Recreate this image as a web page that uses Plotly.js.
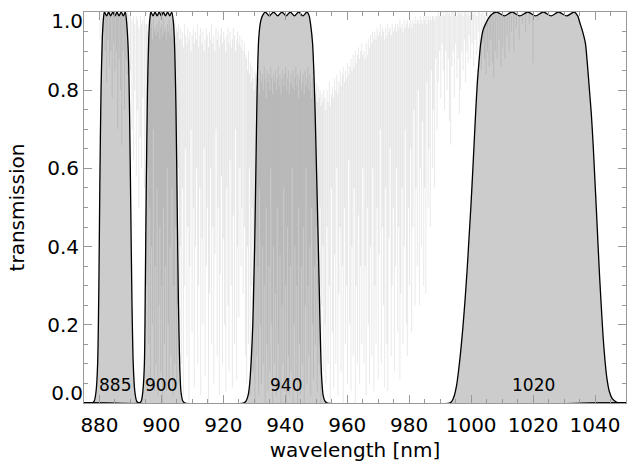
<!DOCTYPE html>
<html><head><meta charset="utf-8">
<script src="https://cdn.plot.ly/plotly-3.0.1.min.js"></script>
<style>html,body{margin:0;padding:0;background:#fff;}#chart{width:627px;height:467px;}</style>
</head><body><div id="chart"></div>
<script>
// ---- filter transmission curves ----
const f885Wl = [875, 877.6, 878.3, 878.9, 879.4, 879.8, 880.1, 880.5, 880.9, 881.3, 881.6, 882.3, 882.95, 883.6, 884.3, 885.0, 885.65, 886.3, 887.0, 887.7, 888.35, 888.8, 889.3, 889.7, 890.1, 890.5, 890.9, 891.4, 892.0, 892.8, 1050];
const f885T  = [0, 0, 0.005, 0.03, 0.1, 0.3, 0.55, 0.8, 0.93, 0.985, 1.0, 0.99, 1.0, 0.99, 1.0, 0.99, 1.0, 0.99, 1.0, 0.99, 1.0, 0.97, 0.9, 0.75, 0.5, 0.25, 0.1, 0.03, 0.005, 0, 0];
const f900Wl = [875, 892.8, 893.5, 894.0, 894.5, 894.8, 895.1, 895.5, 895.9, 896.3, 896.6, 897.3, 897.95, 898.6, 899.3, 899.95, 900.65, 901.3, 902.0, 902.7, 903.35, 903.9, 904.3, 904.7, 905.1, 905.5, 905.9, 906.3, 906.9, 907.6, 1050];
const f900T  = [0, 0, 0.005, 0.03, 0.1, 0.3, 0.55, 0.8, 0.93, 0.985, 1.0, 0.99, 1.0, 0.99, 1.0, 0.99, 1.0, 0.99, 1.0, 0.99, 1.0, 0.97, 0.9, 0.75, 0.5, 0.25, 0.1, 0.03, 0.005, 0, 0];
const f940Wl = [875, 926.5, 927.3, 928.0, 928.5, 929.0, 929.5, 929.8, 930.1, 930.5, 930.9, 931.4, 932.0, 932.6, 933.5, 934.85, 936.2, 937.55, 938.9, 940.25, 941.6, 942.95, 944.3, 945.65, 947.0, 947.7, 948.3, 948.8, 949.2, 949.6, 950.0, 950.4, 950.8, 951.1, 951.4, 951.7, 952.2, 952.8, 953.6, 1050];
const f940T  = [0, 0, 0.005, 0.02, 0.05, 0.11, 0.2, 0.3, 0.4, 0.6, 0.8, 0.93, 0.975, 0.99, 1.0, 0.99, 1.0, 0.99, 1.0, 0.99, 1.0, 0.99, 1.0, 0.99, 1.0, 0.99, 0.96, 0.92, 0.85, 0.75, 0.62, 0.49, 0.35, 0.24, 0.14, 0.07, 0.02, 0.005, 0, 0];
const f1020Wl = [875, 993.0, 993.8, 994.6, 995.3, 995.9, 996.6, 997.3, 998.0, 998.7, 999.3, 999.9, 1000.5, 1001.0, 1001.5, 1002.0, 1002.5, 1003.1, 1003.9, 1004.7, 1005.7, 1006.8, 1008.2, 1010.7, 1013.2, 1015.7, 1018.3, 1020.8, 1023.3, 1025.8, 1028.2, 1030.8, 1033.3, 1034.4, 1035.2, 1036.0, 1036.9, 1037.5, 1038.1, 1038.8, 1039.4, 1039.9, 1040.4, 1041.0, 1041.5, 1042.0, 1042.6, 1043.2, 1043.8, 1044.6, 1045.5, 1046.6, 1048.0, 1050];
const f1020T  = [0, 0, 0.005, 0.02, 0.045, 0.08, 0.13, 0.19, 0.26, 0.34, 0.42, 0.5, 0.59, 0.67, 0.75, 0.82, 0.87, 0.92, 0.955, 0.97, 0.985, 0.995, 1.0, 0.99, 1.0, 0.99, 1.0, 0.99, 1.0, 0.99, 1.0, 0.99, 1.0, 0.99, 0.97, 0.95, 0.92, 0.87, 0.81, 0.74, 0.66, 0.58, 0.5, 0.4, 0.32, 0.25, 0.17, 0.11, 0.065, 0.03, 0.012, 0.004, 0, 0];

// ---- filter labels ----
const labelText = ['885', '900', '940', '1020'];
const labelWl   = [885, 900, 940.3, 1020.2];
const labelT    = [0.045, 0.045, 0.045, 0.045];

// ---- atmospheric absorption lines: wavelength, local maximum, minimum transmission ----
const specWl = [
 880.2, 880.8, 881.3, 881.8, 882.3, 882.7, 883.2, 883.6, 884.1, 884.6, 885.0, 885.5, 885.9, 886.3, 886.8, 887.2, 887.6, 888.1, 888.5, 889.0, 889.5,
 890.0, 890.5, 891.0, 891.4, 891.9, 892.3, 892.7, 893.2, 893.6, 894.0, 894.5, 895.0,
 895.3, 895.6, 895.9, 896.2, 896.5, 896.8, 897.1, 897.4, 897.7, 898.0, 898.3, 898.6, 898.9, 899.2, 899.5, 899.8, 900.1, 900.4, 900.7, 901.0,
 901.3, 901.6, 901.9, 902.2, 902.5, 902.8, 903.1, 903.4, 903.7, 904.0, 904.3, 904.6, 904.9, 905.2, 905.5, 905.8,
 906.1, 906.4, 906.8, 907.1, 907.5, 907.8, 908.2, 908.5, 908.9, 909.2, 909.6, 909.9, 910.3, 910.6, 911.0, 911.3, 911.7, 912.0, 912.4, 912.7,
 913.1, 913.4, 913.8, 914.1, 914.5, 914.8, 915.2, 915.5, 915.9, 916.2, 916.6, 916.9, 917.3, 917.6, 918.0, 918.3, 918.7, 919.0, 919.4, 919.7,
 920.1, 920.4, 920.8, 921.1, 921.5, 921.8, 922.2, 922.5, 922.9, 923.2, 923.6, 923.9, 924.3, 924.6, 925.0, 925.3, 925.7, 926.0, 926.4, 926.8, 927.2,
 927.5, 927.8, 928.1, 928.4, 928.7, 929.0, 929.3, 929.6, 929.9, 930.2, 930.5, 930.8, 931.1, 931.4, 931.7, 932.0, 932.3, 932.6, 932.9, 933.2,
 933.5, 933.8, 934.1, 934.4, 934.7, 935.0, 935.3, 935.6, 935.9, 936.2, 936.5, 936.8, 937.1, 937.4, 937.7, 938.0, 938.3, 938.6, 938.9, 939.2,
 939.5, 939.8, 940.1, 940.4, 940.7, 941.0, 941.3, 941.6, 941.9, 942.2, 942.5, 942.8, 943.1, 943.4, 943.7, 944.0, 944.3, 944.6, 944.9, 945.2,
 945.5, 945.8, 946.1, 946.4, 946.7, 947.0, 947.3, 947.6, 947.9, 948.2, 948.5, 948.8, 949.1, 949.4, 949.7, 950.0, 950.3, 950.6, 950.9, 951.2,
 951.5, 951.8, 952.1, 952.4,
 952.8, 953.1, 953.5, 953.8, 954.2, 954.5, 954.9, 955.2, 955.6, 955.9, 956.3, 956.6, 957.0, 957.3, 957.7, 958.0, 958.4, 958.7, 959.1, 959.4,
 959.8, 960.1, 960.5, 960.8, 961.2, 961.5, 961.9, 962.2, 962.6, 962.9, 963.3, 963.6, 964.0, 964.3, 964.7, 965.0,
 965.4, 965.8, 966.1, 966.5, 966.8, 967.2, 967.5, 967.9, 968.2, 968.6, 968.9, 969.3, 969.6, 970.0, 970.3, 970.7, 971.0, 971.4, 971.7, 972.1,
 972.4, 972.8, 973.1, 973.5, 973.8, 974.2, 974.5, 974.9, 975.2, 975.6, 975.9, 976.3, 976.6, 977.0, 977.3, 977.7, 978.0, 978.4, 978.7, 979.1,
 979.4, 979.8, 980.1, 980.5, 980.8, 981.2, 981.5, 981.9, 982.2, 982.6, 982.9, 983.3, 983.6, 984.0, 984.3, 984.7, 985.0, 985.4, 985.7, 986.1,
 986.4, 986.8, 987.1, 987.5, 987.8, 988.2, 988.6, 989.0, 989.4, 989.8, 990.2, 990.6,
 991.0, 991.4, 991.8, 992.2, 992.6, 993.0, 993.4, 993.8, 994.2, 994.6, 995.0, 995.4, 995.8, 996.2, 996.6, 997.0, 997.4, 997.8, 998.2, 998.6,
 999.0, 999.4, 999.8, 1000.3, 1000.8, 1001.3, 1001.8, 1002.3, 1002.8, 1003.3, 1003.8, 1004.3, 1004.8, 1005.3, 1005.8, 1006.3, 1006.8, 1007.3, 1007.8, 1008.4,
 1009.0, 1009.6, 1010.2, 1010.9, 1011.6, 1012.3, 1013.0, 1013.8, 1014.6, 1015.5, 1016.5, 1017.6, 1018.8, 1020.0, 1021.5
];
const specTop = [
 1, 0.995, 1, 1, 0.99, 1, 0.995, 1, 0.99, 1, 1, 0.995, 1, 0.99, 1, 1, 0.995, 1, 0.99, 1, 0.995,
 0.99, 0.98, 0.99, 0.97, 0.99, 0.98, 0.96, 0.99, 0.97, 0.98, 0.99, 0.97,
 0.97, 0.95, 0.98, 0.94, 0.96, 0.97, 0.93, 0.98, 0.95, 0.96, 0.94, 0.97, 0.95, 0.98, 0.93, 0.96, 0.97, 0.94, 0.98, 0.95,
 0.96, 0.93, 0.97, 0.95, 0.98, 0.94, 0.96, 0.97, 0.93, 0.95, 0.98, 0.94, 0.96, 0.95, 0.97, 0.93,
 0.96, 0.93, 0.95, 0.91, 0.97, 0.94, 0.92, 0.96, 0.93, 0.95, 0.9, 0.94, 0.96, 0.92, 0.95, 0.93, 0.97, 0.91, 0.94, 0.96,
 0.92, 0.95, 0.9, 0.93, 0.96, 0.94, 0.91, 0.95, 0.93, 0.97, 0.92, 0.94, 0.9, 0.96, 0.93, 0.95, 0.91, 0.94, 0.96, 0.92,
 0.95, 0.93, 0.9, 0.94, 0.96, 0.92, 0.95, 0.91, 0.93, 0.96, 0.94, 0.9, 0.93, 0.95, 0.92, 0.94, 0.91, 0.93, 0.9, 0.92, 0.89,
 0.88, 0.85, 0.9, 0.84, 0.87, 0.82, 0.86, 0.83, 0.8, 0.85, 0.84, 0.81, 0.86, 0.83, 0.79, 0.85, 0.82, 0.84, 0.8, 0.86,
 0.83, 0.78, 0.85, 0.82, 0.84, 0.8, 0.86, 0.83, 0.79, 0.84, 0.82, 0.85, 0.8, 0.83, 0.86, 0.81, 0.84, 0.79, 0.83, 0.85,
 0.81, 0.84, 0.86, 0.8, 0.83, 0.85, 0.79, 0.82, 0.84, 0.81, 0.85, 0.8, 0.83, 0.86, 0.81, 0.84, 0.78, 0.83, 0.85, 0.8,
 0.82, 0.84, 0.79, 0.85, 0.81, 0.83, 0.86, 0.8, 0.84, 0.82, 0.78, 0.83, 0.8, 0.85, 0.79, 0.82, 0.77, 0.81, 0.78, 0.8,
 0.76, 0.79, 0.77, 0.8,
 0.78, 0.75, 0.8, 0.77, 0.82, 0.76, 0.79, 0.81, 0.78, 0.83, 0.8, 0.84, 0.79, 0.82, 0.85, 0.81, 0.84, 0.86, 0.82, 0.85,
 0.83, 0.87, 0.84, 0.86, 0.88, 0.85, 0.89, 0.86, 0.9, 0.87, 0.89, 0.91, 0.88, 0.9, 0.92, 0.89,
 0.9, 0.88, 0.92, 0.89, 0.93, 0.91, 0.94, 0.92, 0.95, 0.93, 0.95, 0.93, 0.96, 0.94, 0.95, 0.97, 0.94, 0.96, 0.95, 0.93,
 0.96, 0.94, 0.97, 0.95, 0.96, 0.94, 0.97, 0.95, 0.96, 0.97, 0.95, 0.97, 0.96, 0.98, 0.96, 0.97, 0.95, 0.98, 0.96, 0.97,
 0.98, 0.96, 0.97, 0.98, 0.96, 0.98, 0.97, 0.99, 0.97, 0.98, 0.98, 0.97, 0.99, 0.98, 0.97, 0.99, 0.98, 0.99, 0.97, 0.99,
 0.98, 0.99, 0.98, 0.99, 0.99, 0.98, 0.99, 0.99, 1, 0.99, 1, 0.99,
 1, 0.99, 1, 1, 0.995, 1, 0.99, 1, 1, 0.995, 1, 0.99, 1, 1, 0.995, 1, 0.99, 1, 1, 0.995,
 1, 0.99, 1, 1, 0.995, 1, 0.99, 1, 1, 0.995, 1, 0.99, 1, 1, 0.995, 1, 0.99, 1, 1, 0.995,
 1, 0.99, 1, 1, 0.995, 1, 0.99, 1, 1, 0.995, 1, 1, 1, 1, 1
];
const specMin = [
 0.93, 0.88, 0.95, 0.9, 0.82, 0.93, 0.86, 0.9, 0.78, 0.92, 0.85, 0.9, 0.7, 0.88, 0.8, 0.66, 0.9, 0.75, 0.88, 0.84, 0.9,
 0.85, 0.7, 0.62, 0.8, 0.58, 0.75, 0.5, 0.68, 0.6, 0.78, 0.55, 0.45,
 0.3, 0.6, 0.15, 0.5, 0.05, 0.4, 0.2, 0.7, 0.03, 0.35, 0.1, 0.55, 0.02, 0.25, 0.45, 0.08, 0.3, 0.0, 0.5, 0.15,
 0.35, 0.03, 0.6, 0.2, 0.05, 0.4, 0.12, 0.55, 0.02, 0.3, 0.1, 0.45, 0.05, 0.25, 0.6, 0.08,
 0.4, 0.1, 0.55, 0.02, 0.3, 0.65, 0.12, 0.45, 0.0, 0.35, 0.7, 0.18, 0.5, 0.04, 0.4, 0.6, 0.1, 0.3, 0.55, 0.02,
 0.42, 0.2, 0.65, 0.07, 0.35, 0.5, 0.0, 0.28, 0.6, 0.15, 0.45, 0.05, 0.38, 0.7, 0.12, 0.5, 0.02, 0.33, 0.58, 0.1,
 0.42, 0.2, 0.03, 0.55, 0.25, 0.08, 0.62, 0.3, 0.04, 0.48, 0.15, 0.7, 0.06, 0.4, 0.22, 0.6, 0.35, 0.5, 0.28, 0.45, 0.12,
 0.05, 0.4, 0.15, 0.6, 0.02, 0.3, 0.5, 0.08, 0.25, 0.0, 0.45, 0.12, 0.35, 0.02, 0.55, 0.2, 0.05, 0.4, 0.1, 0.3,
 0.0, 0.5, 0.15, 0.03, 0.35, 0.08, 0.6, 0.2, 0.0, 0.4, 0.1, 0.28, 0.02, 0.5, 0.15, 0.05, 0.38, 0.0, 0.25, 0.1,
 0.55, 0.03, 0.3, 0.0, 0.45, 0.12, 0.02, 0.35, 0.08, 0.6, 0.0, 0.2, 0.4, 0.05, 0.3, 0.0, 0.5, 0.15, 0.02, 0.35,
 0.1, 0.45, 0.0, 0.25, 0.6, 0.05, 0.3, 0.12, 0.4, 0.02, 0.5, 0.2, 0.06, 0.35, 0.15, 0.45, 0.03, 0.3, 0.1, 0.5,
 0.0, 0.25, 0.4, 0.08,
 0.2, 0.05, 0.45, 0.1, 0.3, 0.0, 0.55, 0.18, 0.04, 0.38, 0.1, 0.6, 0.02, 0.28, 0.45, 0.08, 0.35, 0.0, 0.5, 0.15,
 0.3, 0.05, 0.62, 0.2, 0.03, 0.4, 0.12, 0.55, 0.0, 0.3, 0.1, 0.48, 0.05, 0.35, 0.15, 0.6,
 0.1, 0.35, 0.02, 0.5, 0.2, 0.05, 0.4, 0.12, 0.6, 0.03, 0.3, 0.15, 0.5, 0.06, 0.38, 0.7, 0.1, 0.45, 0.25, 0.04,
 0.55, 0.15, 0.03, 0.42, 0.65, 0.12, 0.3, 0.5, 0.08, 0.35, 0.6, 0.18, 0.45, 0.06, 0.28, 0.55, 0.15, 0.4, 0.7, 0.2,
 0.12, 0.5, 0.3, 0.65, 0.18, 0.45, 0.75, 0.25, 0.55, 0.35, 0.8, 0.25, 0.6, 0.4, 0.72, 0.3, 0.55, 0.28, 0.82, 0.5,
 0.65, 0.45, 0.85, 0.6, 0.75, 0.55, 0.88, 0.7, 0.82, 0.9, 0.78, 0.92,
 0.85, 0.75, 0.9, 0.8, 0.88, 0.72, 0.66, 0.86, 0.9, 0.78, 0.92, 0.83, 0.88, 0.74, 0.8, 0.9, 0.85, 0.93, 0.82, 0.9,
 0.87, 0.94, 0.88, 0.92, 0.86, 0.93, 0.89, 0.95, 0.9, 0.85, 0.92, 0.88, 0.84, 0.9, 0.86, 0.93, 0.87, 0.83, 0.9, 0.88,
 0.93, 0.86, 0.91, 0.88, 0.94, 0.9, 0.95, 0.9, 0.96, 0.93, 0.97, 0.95, 0.97, 0.87, 0.98
];

// ---- axis ticks ----
const xTick0 = 880, xDtick = 20;
const yMidTicks = [0.2, 0.4, 0.6, 0.8];
const yLowTick = [0.0], yHighTick = [1.0];

const sx = [], sy = [];
const nLines = Math.min(specWl.length, specMin.length, specTop.length);
for (let i = 0; i < nLines; i++) {
  sx.push(specWl[i], specWl[i], null);
  sy.push(specTop[i], specMin[i], null);
}

const filters = [[f885Wl, f885T], [f900Wl, f900T], [f940Wl, f940T], [f1020Wl, f1020T]];
const traces = [];
filters.forEach(f => traces.push({
  x: f[0], y: f[1], mode: 'lines', fill: 'tozeroy', fillcolor: '#cccccc',
  line: {width: 0, shape: 'spline', smoothing: 0.7}, hoverinfo: 'skip'
}));
traces.push({x: sx, y: sy, mode: 'lines', connectgaps: false,
  line: {color: 'rgba(0,0,0,0.13)', width: 0.7}, hoverinfo: 'skip'});
filters.forEach(f => traces.push({
  x: f[0], y: f[1], mode: 'lines',
  line: {color: '#000', width: 1.3, shape: 'spline', smoothing: 0.7}, hoverinfo: 'skip'
}));
// invisible anchors for the end-label axes
traces.push({x: [900], y: [0.5], yaxis: 'y2', mode: 'markers', marker: {opacity: 0}, hoverinfo: 'skip'});
traces.push({x: [900], y: [0.5], yaxis: 'y3', mode: 'markers', marker: {opacity: 0}, hoverinfo: 'skip'});

const tickFont = {family: 'DejaVu Sans', size: 20, color: '#000'};
const axisCommon = {
  ticks: 'inside', ticklen: 8, tickwidth: 1, tickcolor: '#999',
  showline: true, linecolor: '#999', linewidth: 1, mirror: 'ticks',
  showgrid: false, zeroline: false, tickfont: tickFont
};
const endAxis = (vals, shift) => ({
  overlaying: 'y', anchor: 'x', side: 'left', range: [0, 1.0],
  tickmode: 'array', tickvals: vals, ticktext: vals.map(v => v.toFixed(1)),
  ticks: '', showline: false, showgrid: false, zeroline: false,
  tickfont: tickFont, ticklabelshift: shift, ticklabeloverflow: 'allow'
});
const layout = {
  width: 627, height: 467,
  margin: {l: 84, r: 1, t: 12, b: 64},
  paper_bgcolor: '#fff', plot_bgcolor: '#fff', showlegend: false,
  font: {family: 'DejaVu Sans', size: 20, color: '#000'},
  xaxis: Object.assign({}, axisCommon, {
    range: [875, 1050], tickmode: 'linear', tick0: xTick0, dtick: xDtick,
    ticklabelstandoff: 4,
    minor: {tick0: 875, dtick: 5, ticks: 'inside', ticklen: 4, tickcolor: '#999', showgrid: false},
    title: {text: 'wavelength [nm]', font: {family: 'DejaVu Sans', size: 20, color: '#000'}, standoff: 6}
  }),
  yaxis: Object.assign({}, axisCommon, {
    range: [0, 1.0], tickmode: 'array', tickvals: [0].concat(yMidTicks, [1.0]),
    ticktext: ['', '0.2', '0.4', '0.6', '0.8', ''],
    minor: {tick0: 0, dtick: 0.05, ticks: 'inside', ticklen: 4, tickcolor: '#999', showgrid: false},
    title: {text: 'transmission', font: {family: 'DejaVu Sans', size: 20, color: '#000'}, standoff: 17}
  }),
  yaxis2: endAxis(yLowTick, -10),
  yaxis3: endAxis(yHighTick, 9),
  annotations: labelText.map((t, i) => ({
    x: labelWl[i], y: labelT[i], xref: 'x', yref: 'y', text: t, showarrow: false,
    font: {family: 'DejaVu Sans', size: 17, color: '#000'}, xanchor: 'center', yanchor: 'middle'
  }))
};
Plotly.newPlot('chart', traces, layout, {displayModeBar: false, staticPlot: true});
</script>
</body></html>
